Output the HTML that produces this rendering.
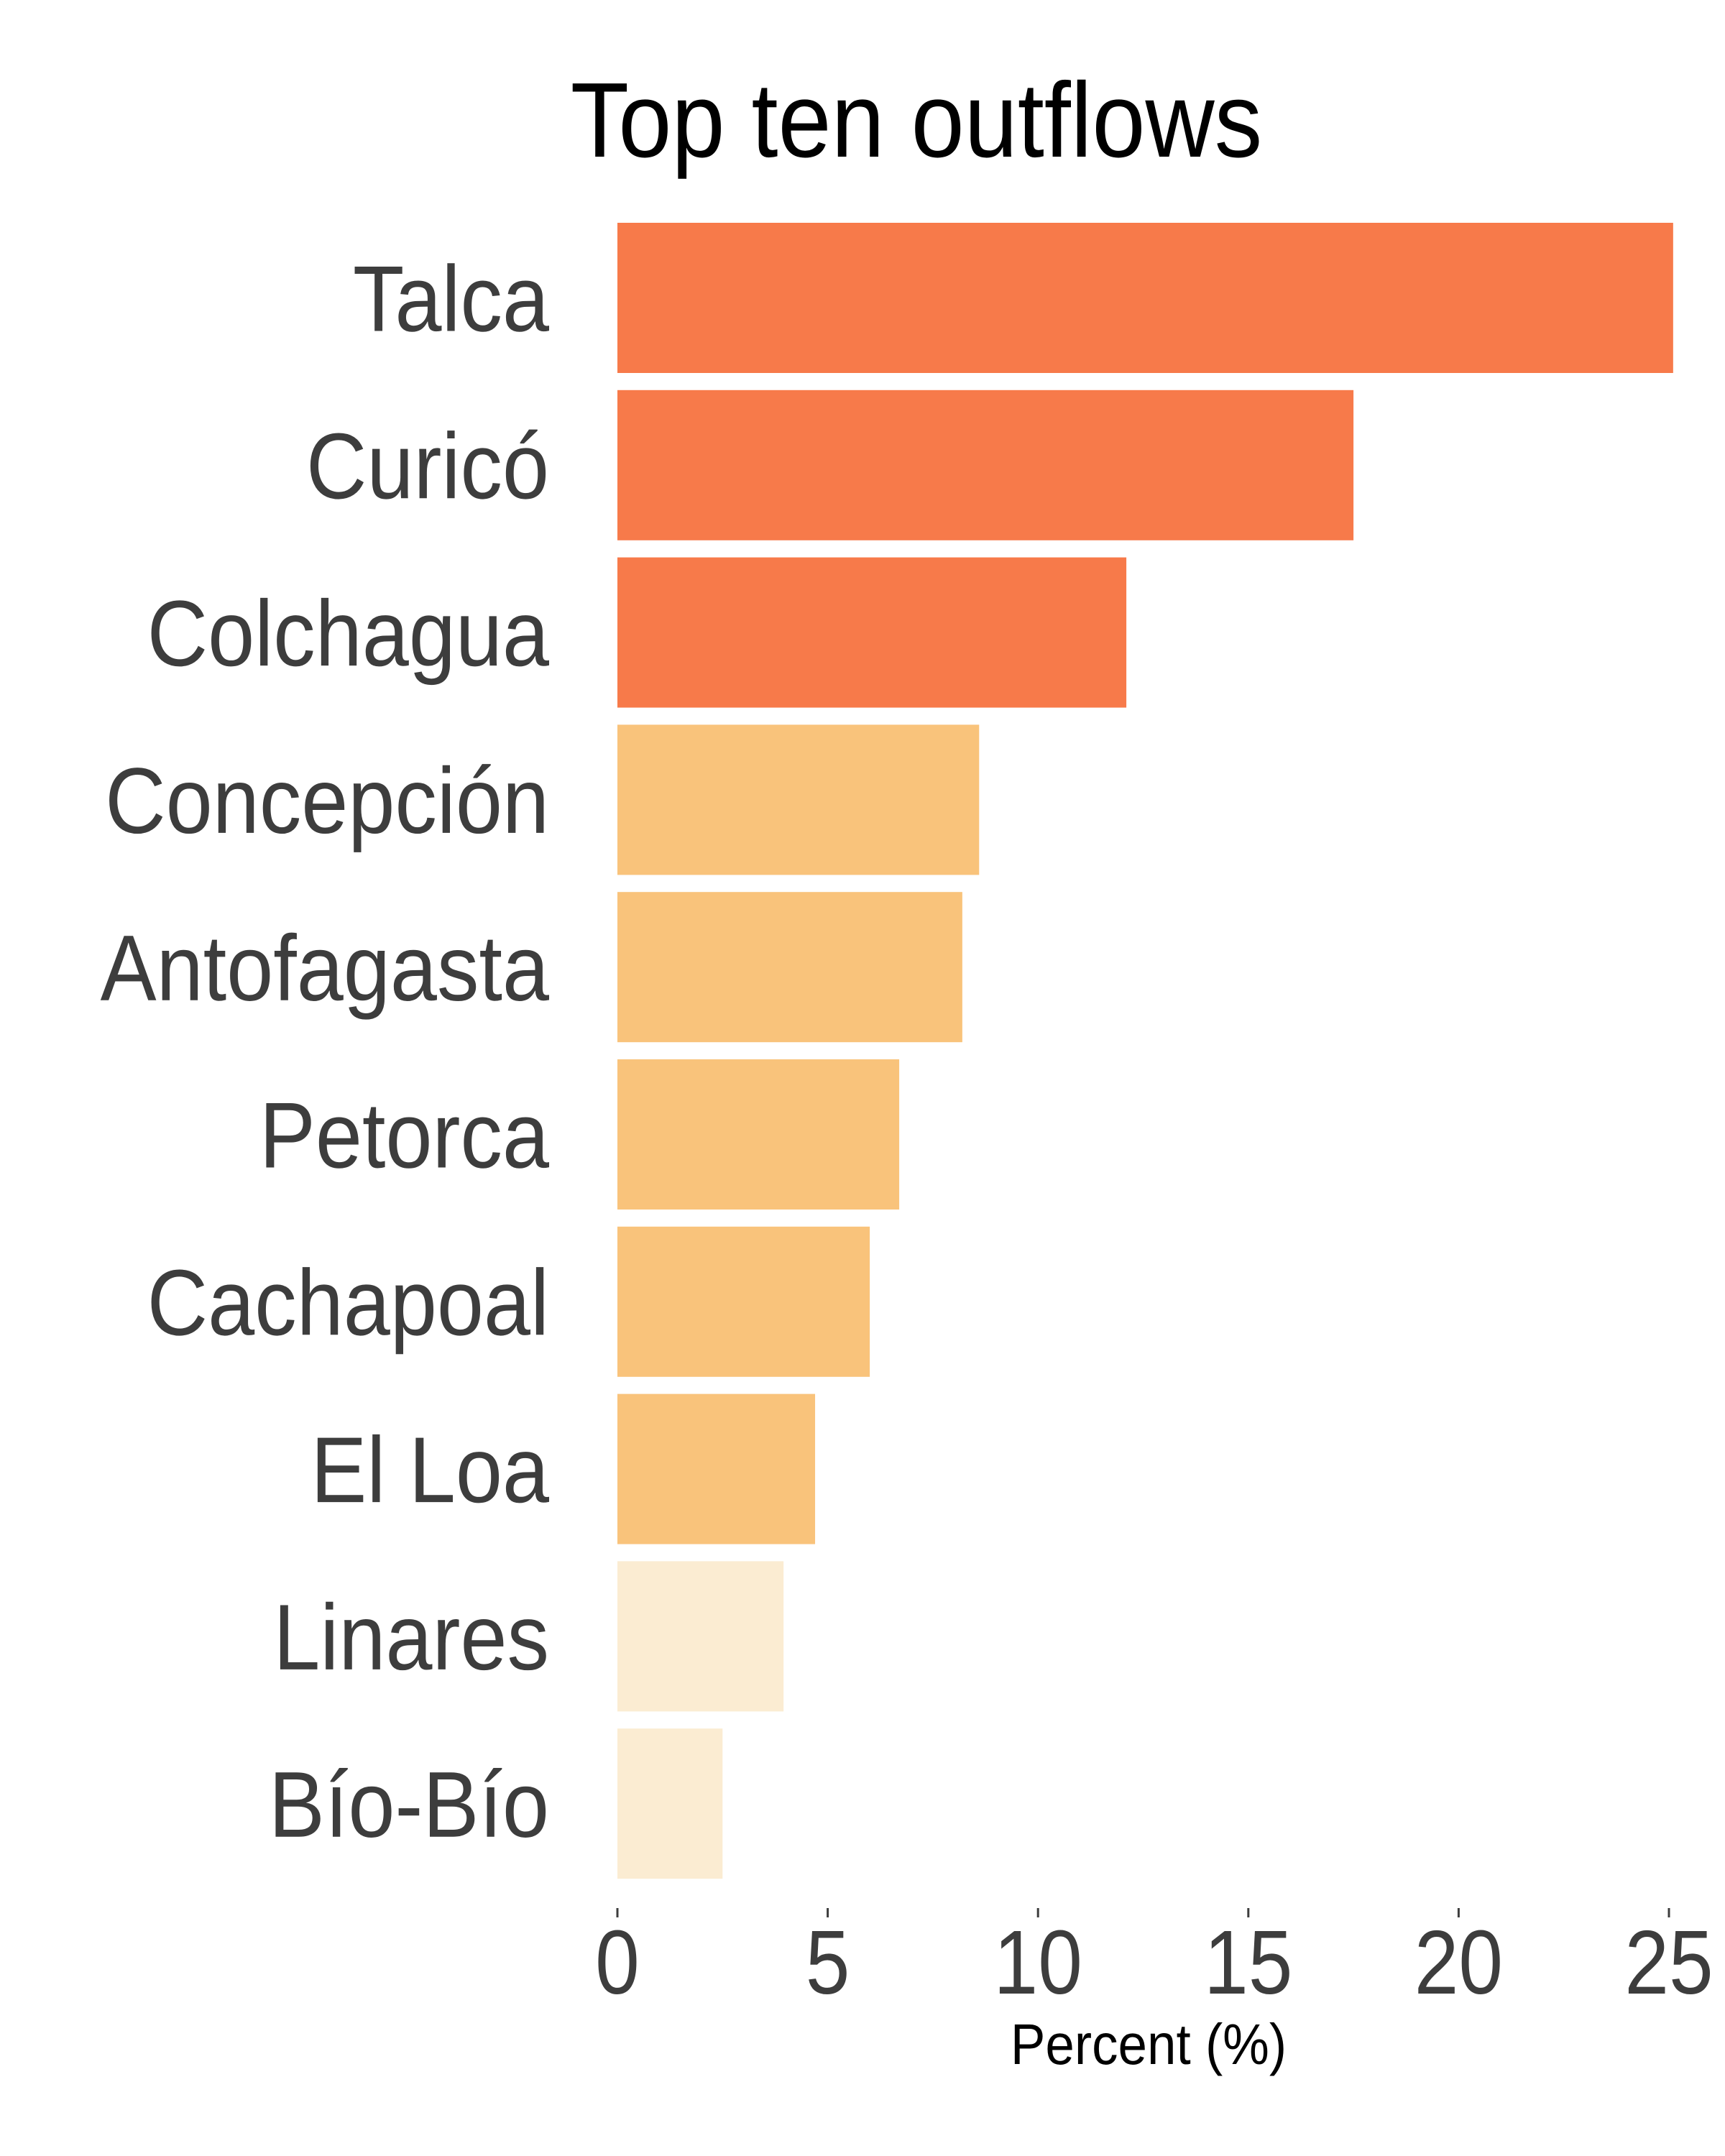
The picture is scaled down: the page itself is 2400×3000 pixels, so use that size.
<!DOCTYPE html>
<html><head><meta charset="utf-8"><style>
html,body{margin:0;padding:0;background:#fff;}
svg{display:block;}
text{font-family:"Liberation Sans",sans-serif;}
</style></head><body>
<svg id="chart" width="2400" height="3000" viewBox="0 0 2400 3000" xmlns="http://www.w3.org/2000/svg">
<g transform="translate(1275,218) scale(0.9,1)"><text x="0" y="0" font-size="148" text-anchor="middle" fill="#000">Top ten outflows</text></g>
<g id="bars"></g>
<g id="ylabels"></g>
<g id="xaxis"></g>
<g transform="translate(1598,2872) scale(0.91,1)"><text x="0" y="0" font-size="80" text-anchor="middle" fill="#000">Percent (%)</text></g>
</svg>
<script>
const categories = ["Talca","Curicó","Colchagua","Concepción","Antofagasta","Petorca","Cachapoal","El Loa","Linares","Bío-Bío"];
const values = [25.1,17.5,12.1,8.6,8.2,6.7,6.0,4.7,3.95,2.5];
const groups = [0,0,0,1,1,1,1,1,2,2];
const tickValues = [0,5,10,15,20,25];
const tickLabels = ["0","5","10","15","20","25"];
const palette = ["#F77A4A","#F9C37B","#FBECD2"];

const NS="http://www.w3.org/2000/svg";
const x0=859, x1=2322, xmax=25;
function xs(v){return x0+(x1-x0)*v/xmax;}
const top0=310, pitch=232.8, bh=209;
function ys(i){return top0+i*pitch;}
const bars=document.getElementById('bars'), yl=document.getElementById('ylabels'), xa=document.getElementById('xaxis');
categories.forEach((c,i)=>{
  const r=document.createElementNS(NS,'rect');
  r.setAttribute('x',xs(0));r.setAttribute('y',ys(i));
  r.setAttribute('width',xs(values[i])-xs(0));r.setAttribute('height',bh);
  r.setAttribute('fill',palette[groups[i]]);
  
  
  bars.appendChild(r);
  const g=document.createElementNS(NS,'g');
  g.setAttribute('transform','translate(764,'+(ys(i)+bh/2+46)+') scale(0.9,1)');
  const t=document.createElementNS(NS,'text');
  t.setAttribute('x',0);t.setAttribute('y',0);
  t.setAttribute('font-size','130');t.setAttribute('text-anchor','end');t.setAttribute('fill','#3d3d3d');
  t.textContent=c;
  
  
  g.appendChild(t);
  yl.appendChild(g);
});
tickValues.forEach((v,i)=>{
  const l=document.createElementNS(NS,'line');
  l.setAttribute('x1',xs(v));l.setAttribute('x2',xs(v));l.setAttribute('y1',2655);l.setAttribute('y2',2668);
  l.setAttribute('stroke','#3d3d3d');l.setAttribute('stroke-width','3');
  
  
  xa.appendChild(l);
  const g=document.createElementNS(NS,'g');
  g.setAttribute('transform','translate('+xs(v)+',2774) scale(0.88,1)');
  const t=document.createElementNS(NS,'text');
  t.setAttribute('x',0);t.setAttribute('y',0);
  t.setAttribute('font-size','126');t.setAttribute('text-anchor','middle');t.setAttribute('fill','#3d3d3d');
  t.textContent=tickLabels[i];
  
  
  g.appendChild(t);
  xa.appendChild(g);
});
</script>
</body></html>
